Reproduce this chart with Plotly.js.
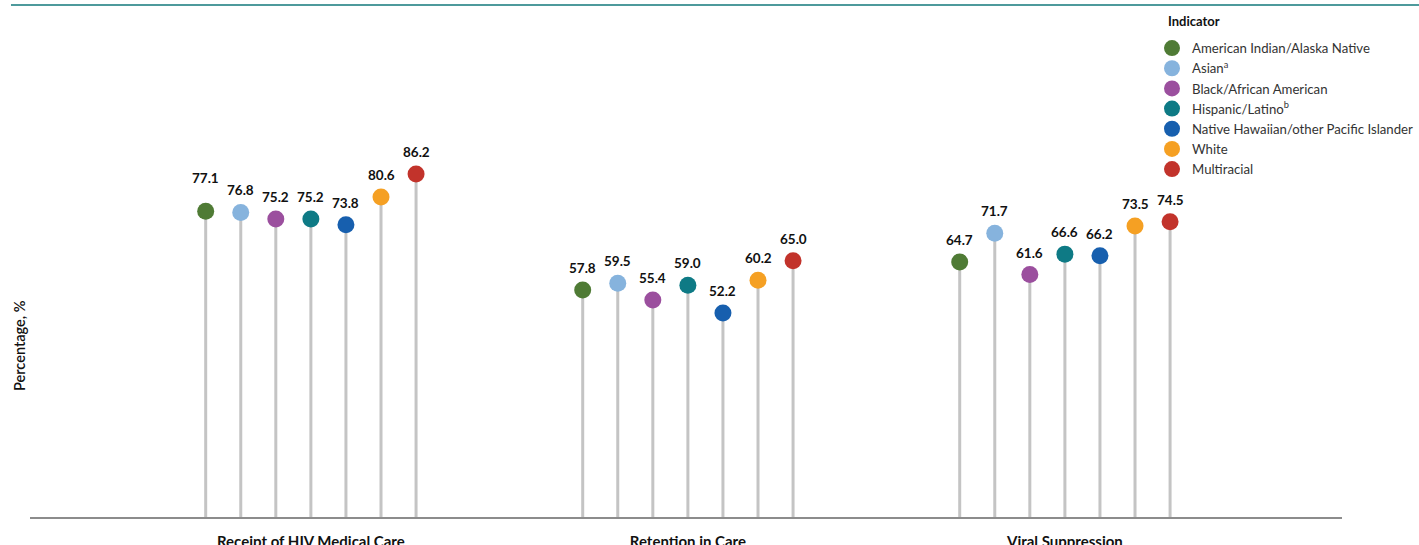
<!DOCTYPE html>
<html>
<head>
<meta charset="utf-8">
<script src="https://cdn.plot.ly/plotly-3.0.1.min.js"></script>
<style>html,body{margin:0;padding:0;background:#fff;}#chart{width:1419px;height:545px;}</style>
</head>
<body>
<div id="chart"></div>
<script>
// ---- data ----
const groups = ["Receipt of HIV Medical Care", "Retention in Care", "Viral Suppression"];
const seriesNames = [
  "American Indian/Alaska Native",
  "Asian<sup>a</sup>",
  "Black/African American",
  "Hispanic/Latino<sup>b</sup>",
  "Native Hawaiian/other Pacific Islander",
  "White",
  "Multiracial"
];
const aian = [77.1, 57.8, 64.7];
const asian = [76.8, 59.5, 71.7];
const black = [75.2, 55.4, 61.6];
const hispanic = [75.2, 59.0, 66.6];
const nhopi = [73.8, 52.2, 66.2];
const white = [80.6, 60.2, 73.5];
const multiracial = [86.2, 65.0, 74.5];
const seriesValues = [aian, asian, black, hispanic, nhopi, white, multiracial];
const legendTitle = "Indicator";
const yTitle = "Percentage, %";

// ---- styles ----
const colors = ["#4f7b35", "#86b3dd", "#9b4f9e", "#0e7a85", "#175fae", "#f5a023", "#c2332b"];
const FONT = "Lato, 'Open Sans', sans-serif";
const yMin = 2.3, yMax = 120.2;
const slot = 0.093; // offset between series within a group (axis units)

const traces = [];
// stems
const sx = [], sy = [];
seriesValues.forEach((vals, i) => {
  vals.forEach((v, g) => {
    const x = g + (i - 3) * slot;
    sx.push(x, x, null);
    sy.push(yMin, v, null);
  });
});
traces.push({
  type: "scatter", mode: "lines", x: sx, y: sy,
  line: {color: "#c4c4c4", width: 3}, hoverinfo: "skip", showlegend: false
});
// markers
seriesValues.forEach((vals, i) => {
  traces.push({
    type: "scatter", mode: "markers", name: seriesNames[i],
    x: vals.map((v, g) => g + (i - 3) * slot),
    y: vals,
    marker: {color: colors[i], size: 17},
    cliponaxis: false
  });
});

// value labels
const annotations = [];
seriesValues.forEach((vals, i) => {
  vals.forEach((v, g) => {
    annotations.push({
      x: g + (i - 3) * slot, y: v, xref: "x", yref: "y",
      text: v.toFixed(1), showarrow: false,
      yanchor: "middle", yshift: (i === 0 && g === 0) ? 33 : 22,
      font: {family: FONT, size: 13.5, color: "#111", weight: 700}
    });
  });
});
annotations.push({
  xref: "paper", yref: "paper", x: -0.0076, y: 0.355, xanchor: "center", yanchor: "middle",
  text: yTitle, textangle: -90, showarrow: false,
  font: {family: FONT, size: 14.5, color: "#111", weight: 600}
});
annotations.push({
  xref: "paper", yref: "paper", x: (1166 - 30) / 1312, y: (517 - 21) / 482,
  xanchor: "left", yanchor: "middle",
  text: legendTitle, showarrow: false,
  font: {family: FONT, size: 13, color: "#111", weight: 700}
});

const layout = {
  width: 1419, height: 545,
  margin: {l: 30, r: 77, t: 35, b: 28, autoexpand: false},
  paper_bgcolor: "#fff", plot_bgcolor: "#fff",
  font: {family: FONT, color: "#222"},
  xaxis: {
    range: [-0.745, 2.735], tickvals: [0, 1, 2], ticktext: groups,
    showgrid: false, zeroline: false, showline: true, linecolor: "#8c8c8c", linewidth: 2,
    ticks: "", ticklabelstandoff: 10, automargin: false,
    tickfont: {family: FONT, size: 15, color: "#111", weight: 700}
  },
  yaxis: {
    range: [yMin, yMax], showgrid: false, zeroline: false, showline: false,
    showticklabels: false, ticks: ""
  },
  showlegend: true,
  legend: {
    xref: "container", yref: "container",
    x: 1152 / 1419, y: 1 - 33 / 545, xanchor: "left", yanchor: "top",
    bgcolor: "rgba(0,0,0,0)", itemsizing: "trace",
    font: {family: FONT, size: 13.2, color: "#333"},
    tracegroupgap: 0
  },
  shapes: [{
    type: "line", xref: "paper", yref: "paper",
    x0: -0.0145, x1: 1.06, y0: 1.0622, y1: 1.0622,
    line: {color: "#4e9a9c", width: 2}
  }],
  annotations: annotations
};

Plotly.newPlot("chart", traces, layout, {displayModeBar: false, staticPlot: true});
</script>
</body>
</html>
